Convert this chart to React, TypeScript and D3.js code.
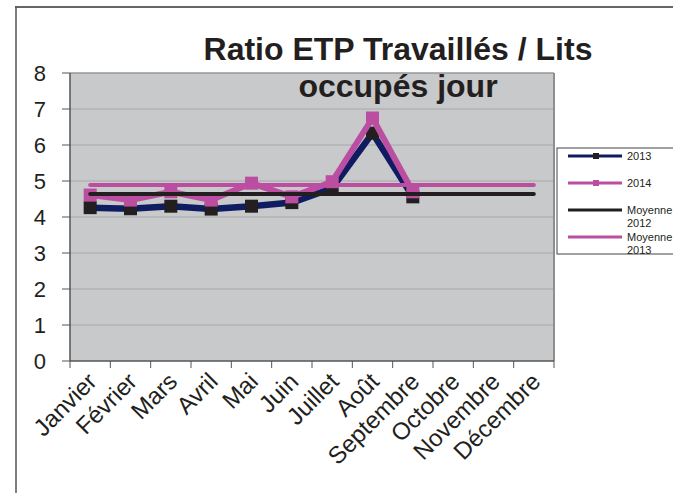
import { scaleBand, scaleLinear, line } from "d3";

const width = 673;
const height = 493;

const months = [
  "Janvier", "Février", "Mars", "Avril", "Mai", "Juin",
  "Juillet", "Août", "Septembre", "Octobre", "Novembre", "Décembre",
];
const ratio2013 = [4.26, 4.23, 4.3, 4.22, 4.3, 4.4, 4.8, 6.33, 4.56];
const ratio2014 = [4.61, 4.47, 4.7, 4.47, 4.94, 4.56, 4.98, 6.75, 4.7];
const moyenne2012 = months.map(() => 4.64);
const moyenne2013 = months.map(() => 4.89);
const yTicks = [0, 1, 2, 3, 4, 5, 6, 7, 8];

const navy = "#101c62";
const pink = "#bb4ea1";
const dark = "#231f20";

const plot = { left: 70, right: 554, top: 73, bottom: 361 };

const App = () => {
  const x = scaleBand<string>().domain(months).range([plot.left, plot.right]);
  const y = scaleLinear().domain([0, 8]).range([plot.bottom, plot.top]);
  const cx = (i: number) => (x(months[i]) as number) + x.bandwidth() / 2;

  const path = line<number>()
    .x((_, i) => cx(i))
    .y((v) => y(v));

  const font = "Liberation Sans, Arial, sans-serif";
  const titleFont = "Liberation Sans Narrow, Arial Narrow, sans-serif";

  return (
    <svg
      width={width}
      height={height}
      style={{ position: "absolute", left: 0, top: 0, background: "#fff" }}
      fontFamily={font}
    >
      {/* outer frame */}
      <line x1={15} x2={673} y1={7} y2={7} stroke="#333" strokeWidth={1.5} />
      <line x1={16} x2={16} y1={7} y2={493} stroke="#555" strokeWidth={1.5} />

      {/* plot area */}
      <rect
        x={plot.left}
        y={plot.top}
        width={plot.right - plot.left}
        height={plot.bottom - plot.top}
        fill="#c8c9cb"
      />
      {yTicks.slice(1).map((t) => (
        <line
          key={t}
          x1={plot.left}
          x2={plot.right}
          y1={y(t)}
          y2={y(t)}
          stroke="#a6a7a9"
          strokeWidth={1}
        />
      ))}
      <line x1={plot.right} x2={plot.right} y1={plot.top} y2={plot.bottom} stroke="#8d8e90" strokeWidth={2} />
      <line x1={plot.left} x2={plot.right} y1={plot.top} y2={plot.top} stroke="#8d8e90" strokeWidth={1} />

      {/* y axis */}
      <line x1={plot.left} x2={plot.left} y1={plot.top} y2={plot.bottom} stroke="#555" strokeWidth={1.5} />
      {yTicks.map((t) => (
        <g key={t}>
          <line x1={62} x2={plot.left} y1={y(t)} y2={y(t)} stroke="#555" strokeWidth={1} />
          <text x={46} y={y(t)} dy="0.36em" textAnchor="end" fontSize={22} fill={dark}>
            {t}
          </text>
        </g>
      ))}

      {/* x axis */}
      <line x1={plot.left} x2={plot.right} y1={plot.bottom} y2={plot.bottom} stroke="#555" strokeWidth={1.5} />
      {months.map((m) => (
        <line
          key={m}
          x1={x(m) as number}
          x2={x(m) as number}
          y1={plot.bottom}
          y2={plot.bottom + 7}
          stroke="#555"
          strokeWidth={1}
        />
      ))}
      <line x1={plot.right} x2={plot.right} y1={plot.bottom} y2={plot.bottom + 7} stroke="#555" strokeWidth={1} />
      {months.map((m, i) => (
        <text
          key={m}
          transform={`translate(${cx(i) + 8},${plot.bottom + 22}) rotate(-45)`}
          textAnchor="end"
          fontSize={24}
          fill={dark}
        >
          {m}
        </text>
      ))}

      {/* series */}
      <path d={path(ratio2013) as string} fill="none" stroke={navy} strokeWidth={6.5} strokeLinejoin="round" />
      {ratio2013.map((v, i) => (
        <rect key={i} x={cx(i) - 6.5} y={y(v) - 6.5} width={13} height={13} fill={dark} />
      ))}
      <path d={path(ratio2014) as string} fill="none" stroke={pink} strokeWidth={6} strokeLinejoin="round" />
      {ratio2014.map((v, i) => (
        <rect key={i} x={cx(i) - 6.5} y={y(v) - 6.5} width={13} height={13} fill={pink} />
      ))}
      <path d={path(moyenne2012) as string} fill="none" stroke={dark} strokeWidth={4} strokeLinecap="round" />
      <path d={path(moyenne2013) as string} fill="none" stroke={pink} strokeWidth={4} strokeLinecap="round" />

      {/* title */}
      <text x={398} y={60} textAnchor="middle" fontSize={32} fontWeight="bold" fontFamily={titleFont} fill={dark}>
        Ratio ETP Travaillés / Lits
      </text>
      <text x={398} y={97} textAnchor="middle" fontSize={32} fontWeight="bold" fontFamily={titleFont} fill={dark}>
        occupés jour
      </text>

      {/* legend */}
      <rect x={557} y={148} width={120} height={106} fill="#fff" stroke="#444" strokeWidth={1} />
      <g fontSize={11} fill={dark}>
        <line x1={568} x2={622} y1={156} y2={156} stroke={navy} strokeWidth={3} />
        <rect x={593} y={153} width={6} height={6} fill={dark} />
        <text x={627} y={156} dy="0.35em">2013</text>

        <line x1={568} x2={622} y1={183} y2={183} stroke={pink} strokeWidth={3} />
        <rect x={593} y={180} width={6} height={6} fill={pink} />
        <text x={627} y={183} dy="0.35em">2014</text>

        <line x1={568} x2={622} y1={210} y2={210} stroke={dark} strokeWidth={3} />
        <text x={627} y={210} dy="0.35em">Moyenne</text>
        <text x={627} y={223} dy="0.35em">2012</text>

        <line x1={568} x2={622} y1={237} y2={237} stroke={pink} strokeWidth={3} />
        <text x={627} y={237} dy="0.35em">Moyenne</text>
        <text x={627} y={250} dy="0.35em">2013</text>
      </g>
    </svg>
  );
};

export default App;
